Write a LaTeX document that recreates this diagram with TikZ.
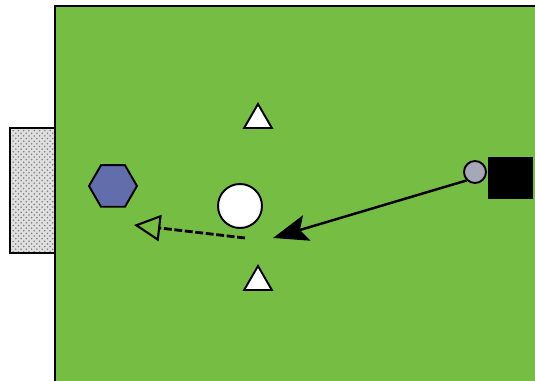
\documentclass[tikz,border=0pt]{standalone}
\usetikzlibrary{arrows.meta,shapes.geometric,patterns}
\definecolor{pitch}{RGB}{118,190,67}
\definecolor{keeper}{RGB}{98,110,172}
\definecolor{pass}{RGB}{165,168,182}
\tikzset{
  cone/.style={regular polygon,regular polygon sides=3,draw=black,fill=white,line width=1.1pt,inner sep=0pt,minimum size=0.64cm},
  ball/.style={circle,draw=black,fill=white,line width=1.1pt,minimum size=0.88cm,inner sep=0pt}
}
\begin{document}
\begin{tikzpicture}[x=0.02cm,y=-0.02cm]
				\clip (0,0) rectangle (535,381);
				\fill[white] (0,0) rectangle (535,381);
				% pitch and goal
				\draw[line width=1.2pt,fill=pitch] (55,6) rectangle (560,400);
				\draw[line width=1.2pt,fill=gray!25] (10,128) rectangle (55,253);
				\fill[pattern=crosshatch dots,pattern color=gray] (10.5,128.5) rectangle (54.5,252.5);
				\draw[line width=1.4pt] (55,128) -- (10,128) -- (10,253) -- (55,253);
				% players and ball
				\node[regular polygon,regular polygon sides=6,draw=black,fill=keeper,line width=1.1pt,inner sep=0pt,minimum size=0.96cm] (gk) at (113,186) {};
				\node[cone] (cone1) at (258,120) {};
				\node[cone] (cone2) at (258,282) {};
				\node[ball] (ball) at (240,206) {};
				\node[circle,draw=black,fill=pass,line width=1.1pt,minimum size=0.44cm,inner sep=0pt] (passer) at (475,172) {};
				\node[fill=black,minimum width=0.9cm,minimum height=0.84cm,inner sep=0pt] (coach) at (510.5,178) {};
				\coordinate (hit) at (273,238);
				\coordinate (shot) at (245,238);
				\coordinate (aim) at (134,225);
				% arrows
				\draw[line width=1.4pt,-{Stealth[length=20pt,width=15pt,inset=4pt]}] (passer.south west) -- (hit);
				\draw[line width=1.6pt,dash pattern=on 4.5pt off 1.5pt,-{Triangle[open,length=15pt,width=15pt,line width=1.2pt]}] (shot) -- (aim);
			\end{tikzpicture}
\end{document}
